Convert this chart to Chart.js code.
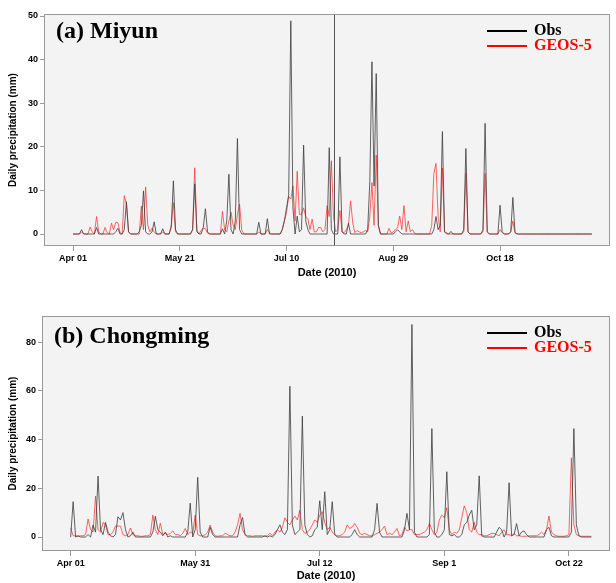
<!DOCTYPE html>
<html>
<head>
<meta charset="utf-8">
<script src="https://cdn.jsdelivr.net/npm/chart.js@4.4.1/dist/chart.umd.min.js"></script>
<style>
  body { margin: 0; background: #fff; }
  #wrap { position: relative; width: 616px; height: 583px; }
  #topBox { position: absolute; left: 0; top: 0; }
  #botBox { position: absolute; left: 0; top: 300px; }
</style>
</head>
<body>
<div id="wrap">
  <canvas id="topBox" width="616" height="280"></canvas>
  <canvas id="botBox" width="616" height="283"></canvas>
</div>
<script>
//series labels
var seriesNames = ["Obs", "GEOS-5"];

//(a) miyun, daily values from Apr 01 to Nov 30
var miyunTickPos = [0, 50, 100, 150, 200];
var miyunTickLabels = ["Apr 01", "May 21", "Jul 10", "Aug 29", "Oct 18"];
var miyunYTicks = [0, 10, 20, 30, 40, 50];
var miyunMarkDay = 122;

var miyunObs = [
  0, 0, 0, 0, 1, 0, 0, 0, 0, 0,
  0, 1.5, 0, 0, 0, 0, 0, 0, 0, 0,
  0.5, 1.3, 0, 0, 1, 7.4, 0.5, 0, 0, 0,
  0, 0.5, 2, 9.9, 0.5, 0, 0, 0.5, 2.8, 0,
  0, 0, 1.2, 0, 0, 0, 1.5, 12.2, 1, 0,
  0, 0, 0, 0, 0, 0, 1, 11.5, 0.5, 0,
  0, 1.5, 5.8, 0.5, 0, 0, 0, 0, 0, 0,
  1.2, 0, 3, 13.7, 1, 0, 3, 21.9, 1, 0,
  0, 0, 0, 0, 0, 0, 0, 2.7, 0, 0,
  0, 3.5, 0, 0, 0, 0, 0, 0, 1, 3,
  6, 9, 48.9, 6, 0, 4.1, 0.5, 1, 20.4, 3,
  1, 0, 0, 0, 0, 0, 0, 0, 0, 0,
  19.8, 1, 0, 0, 0, 17.7, 0.5, 0, 0, 2.5,
  0, 0, 0, 0, 0, 0, 0, 0, 1, 12,
  39.5, 11, 36.8, 2, 0, 0, 0, 0, 0, 0,
  0, 0.5, 1, 0.5, 0, 0, 0, 0, 0, 0,
  0, 0, 0, 0, 0, 0, 0, 0, 0, 1,
  4, 1, 2, 23.5, 0.5, 0, 0, 0.6, 0, 0,
  0, 0, 0, 1, 19.6, 0.5, 0, 0, 0, 0,
  0, 0, 1, 25.4, 0.5, 0, 0, 0, 0, 0,
  6.6, 0.5, 0, 0, 0, 0.5, 8.4, 0.5, 0, 0,
  0, 0, 0, 0, 0, 0, 0, 0, 0, 0,
  0, 0, 0, 0, 0, 0, 0, 0, 0, 0,
  0, 0, 0, 0, 0, 0, 0, 0, 0, 0,
  0, 0, 0, 0
];

var miyunGeos = [
  0, 0, 0, 0, 0.5, 0, 0, 0, 1.6, 0.5,
  0, 4, 0.5, 0, 0, 1.5, 0.3, 0, 2.5, 1,
  2.7, 2.6, 0.3, 0, 8.8, 7, 0.5, 0, 0, 0,
  0, 0, 6.4, 1, 10.8, 2, 0.5, 1.3, 0.5, 0,
  0, 0, 0.5, 0, 0, 0, 2, 7.2, 0.5, 0,
  0, 0, 0, 0, 0, 0, 1, 15.2, 1, 0,
  0.8, 1.4, 1.2, 0.2, 0, 0, 0, 0, 0, 0,
  5.2, 1, 0.5, 3, 5, 2, 1, 4.5, 6.8, 1,
  0, 0, 0, 0, 0, 0, 0, 0.5, 0, 0,
  0, 1, 0.3, 0, 0, 0, 0, 0, 1, 3,
  5, 8.6, 8, 11, 3, 14.4, 4.5, 4.5, 6, 4,
  3.5, 1, 3.4, 0.5, 0.5, 1.5, 1.5, 0.5, 1, 6.5,
  4, 16.8, 4, 0.5, 1, 5.4, 0.5, 0.3, 1, 2,
  7.6, 2.6, 0.3, 0.8, 0.5, 0.3, 0.5, 0.8, 0.5, 4,
  11.8, 2, 18.1, 2, 0, 0, 0, 0, 1.3, 0.2,
  0.5, 1, 1.5, 4.1, 1, 6.5, 0.5, 3, 0.5, 1,
  0.2, 0, 0, 0, 0, 0, 0, 0, 2, 13.9,
  16.2, 4, 0.5, 15.1, 0.5, 0.3, 0, 0, 0, 0,
  0, 0, 0, 0.5, 13.9, 0.5, 0, 0, 0, 0,
  0, 0, 0.5, 13.9, 0.5, 0, 0, 0, 0, 0,
  1, 0.3, 0, 0, 0, 0.5, 3, 0.2, 0, 0,
  0, 0, 0, 0, 0, 0, 0, 0, 0, 0,
  0, 0, 0, 0, 0, 0, 0, 0, 0, 0,
  0, 0, 0, 0, 0, 0, 0, 0, 0, 0,
  0, 0, 0, 0
];

//(b) chongming, one value per record
var chongTickPos = [0, 50, 100, 150, 200];
var chongTickLabels = ["Apr 01", "May 31", "Jul 12", "Sep 1", "Oct 22"];
var chongYTicks = [0, 20, 40, 60, 80];

var chongObs = [
  0, 14.5, 0, 0.5, 0, 0, 0, 1, 0, 4.9,
  2, 25, 3, 1, 6, 2, 0.5, 0, 1, 8.3,
  7, 10, 3, 0, 0.5, 2, 0, 0, 0, 0,
  0, 0, 0, 2, 8.5, 3, 2, 0.5, 2, 0,
  0.5, 0, 0, 0, 0, 0, 0, 2, 13.9, 0,
  3, 24.5, 2, 0, 0, 0, 4, 1, 0, 0,
  0, 0, 0, 0, 0, 0, 0, 0, 5, 8,
  1, 0, 0, 0, 0, 0, 0, 0, 0.5, 0,
  0.5, 0, 1, 3, 5, 2, 1, 3, 61.9, 5,
  1, 2, 3, 49.6, 5, 1, 0, 0.5, 3, 4,
  14.9, 3, 18.6, 1, 3, 14.5, 1, 0, 0, 0,
  0, 0, 0, 1, 3, 1, 0, 0, 0, 0,
  0, 0, 3, 13.8, 2, 0, 0, 0, 0, 0,
  0, 0, 0, 0, 3, 9.7, 3, 87.2, 2, 0,
  0, 0, 0, 0, 1, 44.5, 2, 0, 0, 1,
  3, 26.8, 1, 0.5, 1, 0, 0, 1, 5, 6,
  9, 11, 3, 5, 25.1, 0.5, 0, 0, 0, 0,
  0, 2, 4, 3, 0, 2, 22.3, 0.5, 1, 5.5,
  0.5, 2, 2.5, 1, 0, 0, 0, 0, 0, 0,
  0, 3, 4, 0.5, 0, 0, 0, 0, 0, 0,
  0, 2, 44.5, 5, 0.5, 0, 0, 0, 0, 0
];

var chongGeos = [
  3.8, 0.5, 0.5, 0.3, 0.5, 0.5, 1, 7.4, 3, 2,
  16.8, 3, 2, 6, 5, 1, 1, 2, 4.5, 4.5,
  4.5, 1, 0.5, 1, 3.7, 1, 0.5, 0.5, 0.3, 0.3,
  0.5, 0.5, 1, 9, 3, 1, 5.7, 1, 1.5, 1,
  1.5, 2.5, 1, 1, 0.5, 1.5, 3.5, 1, 2, 1.5,
  9, 1, 0.5, 0.5, 1, 2, 4.9, 2, 0.5, 0.3,
  0.5, 0.5, 1.5, 1, 0.5, 0.5, 2, 5, 9.7, 3,
  1, 0.5, 0.5, 0.3, 0.5, 0.5, 0.5, 0.5, 0.3, 0.5,
  1.5, 0.5, 2, 3, 2, 4, 7.9, 6, 5, 7,
  8.6, 7, 11, 3, 1.5, 2, 3, 5, 7, 6,
  9, 10.4, 6, 3, 4, 2, 1, 0.5, 0.5, 1,
  2, 5, 3.5, 4, 5.6, 4, 1.5, 1, 1.5, 1,
  0.5, 0.5, 1, 1.5, 2, 3, 4.5, 1, 1.5, 1,
  2, 3.5, 0.5, 1, 4, 2.5, 3, 3, 1, 1,
  1, 1.5, 2, 3, 5.5, 3, 1, 2, 7, 9,
  8, 12, 3, 1, 2, 1.5, 3, 8, 12.8, 10,
  3, 2, 6, 2, 1, 1, 0.5, 0.5, 1, 1.5,
  1.5, 1, 0.5, 2, 3, 1, 1, 0.5, 1.5, 0.5,
  0.5, 0.3, 0.3, 0.3, 0.5, 0.5, 0.5, 0.5, 1, 2,
  1, 3, 8.6, 2, 1, 0.5, 0.3, 0.3, 0.3, 0.5,
  1, 32.5, 5, 1, 0.5, 0.3, 0.3, 0.3, 0.3, 0.3
];

//colors
var obsColor = "rgba(60,60,60,0.8)";
var geosColor = "rgba(255,50,50,0.75)";

//turn plain array into x/y points
function toPoints(arr) {
  return arr.map(function (v, i) { return { x: i, y: v }; });
}

//background, box, panel title, legend and marker line
var panelDecor = {
  id: "panelDecor",
  beforeDraw: function (chart) {
    var a = chart.chartArea, ctx = chart.ctx;
    ctx.save();
    ctx.fillStyle = "#f3f3f3";
    ctx.fillRect(a.left, a.top, a.right - a.left, a.bottom - a.top);
    ctx.restore();
  },
  afterDatasetsDraw: function (chart) {
    var a = chart.chartArea, ctx = chart.ctx;
    var o = chart.options.plugins.panelDecor;
    ctx.save();

    if (o.markDay !== undefined) {
      var mx = Math.round(chart.scales.x.getPixelForValue(o.markDay)) + 0.5;
      ctx.strokeStyle = "#555";
      ctx.lineWidth = 1;
      ctx.beginPath();
      ctx.moveTo(mx, a.top);
      ctx.lineTo(mx, a.bottom);
      ctx.stroke();
    }

    ctx.strokeStyle = "#999";
    ctx.lineWidth = 1;
    ctx.strokeRect(a.left + 0.5, a.top + 0.5, a.right - a.left - 1, a.bottom - a.top - 1);

    ctx.fillStyle = "#000";
    ctx.font = "bold 24px 'Liberation Serif'";
    ctx.textBaseline = "middle";
    ctx.fillText(o.title, a.left + 12, o.titleY);

    //legend
    ctx.font = "bold 16px 'Liberation Serif'";
    chart.data.datasets.forEach(function (ds, i) {
      var ly = o.legendY + i * 15;
      ctx.strokeStyle = i === 0 ? "#000" : "#f00";
      ctx.lineWidth = 2;
      ctx.beginPath();
      ctx.moveTo(487, ly);
      ctx.lineTo(527, ly);
      ctx.stroke();
      ctx.fillStyle = i === 0 ? "#000" : "#f00";
      ctx.fillText(ds.label, 534, ly);
    });
    ctx.restore();
  }
};

function makePanel(canvasId, obs, geos, opts) {
  var ctx = document.getElementById(canvasId);
  return new Chart(ctx, {
    type: "line",
    data: {
      datasets: [
        { label: seriesNames[0], data: toPoints(obs), borderColor: obsColor, borderWidth: 1, pointRadius: 0, tension: 0, order: 1 },
        { label: seriesNames[1], data: toPoints(geos), borderColor: geosColor, borderWidth: 1, pointRadius: 0, tension: 0, order: 2 }
      ]
    },
    options: {
      responsive: false,
      animation: false,
      events: [],
      layout: { padding: { left: 0, right: 6, top: opts.top, bottom: 0 } },
      plugins: {
        legend: { display: false },
        tooltip: { enabled: false },
        panelDecor: { title: opts.title, titleY: opts.titleY, legendY: opts.legendY, markDay: opts.markDay }
      },
      scales: {
        x: {
          type: "linear",
          min: opts.xMin,
          max: opts.xMax,
          afterBuildTicks: function (scale) {
            scale.ticks = opts.tickPos.map(function (v) { return { value: v }; });
          },
          afterFit: function (scale) { scale.height = opts.xHeight; },
          ticks: {
            autoSkip: false,
            maxRotation: 0,
            color: "#000",
            padding: 2,
            font: { family: "'Liberation Sans'", size: 9, weight: "bold" },
            callback: function (v) {
              var k = opts.tickPos.indexOf(v);
              return k >= 0 ? opts.tickLabels[k] : "";
            }
          },
          grid: { drawOnChartArea: false, drawTicks: true, tickLength: 5, color: "#999" },
          border: { display: false },
          title: {
            display: true,
            text: "Date (2010)",
            color: "#000",
            padding: 0,
            font: { family: "'Liberation Sans'", size: 11, weight: "bold" }
          }
        },
        y: {
          min: opts.yMin,
          max: opts.yMax,
          afterBuildTicks: function (scale) {
            scale.ticks = opts.yTicks.map(function (v) { return { value: v }; });
          },
          afterFit: function (scale) { scale.width = opts.yWidth; },
          ticks: {
            color: "#000",
            padding: 2,
            font: { family: "'Liberation Sans'", size: 9, weight: "bold" }
          },
          grid: { drawOnChartArea: false, drawTicks: true, tickLength: 4, color: "#999" },
          border: { display: false },
          title: {
            display: true,
            text: "Daily precipitation (mm)",
            color: "#000",
            padding: { top: 7, bottom: 0 },
            font: { family: "'Liberation Sans'", size: 10, weight: "bold" }
          }
        }
      }
    },
    plugins: [panelDecor]
  });
}

makePanel("topBox", miyunObs, miyunGeos, {
  title: "(a) Miyun", titleY: 32, legendY: 31, markDay: miyunMarkDay,
  top: 14, xHeight: 34, yWidth: 44,
  xMin: -13.6, xMax: 251.5, yMin: -2.75, yMax: 50.46,
  tickPos: miyunTickPos, tickLabels: miyunTickLabels, yTicks: miyunYTicks
});

makePanel("botBox", chongObs, chongGeos, {
  title: "(b) Chongming", titleY: 37, legendY: 33,
  top: 16, xHeight: 32, yWidth: 42,
  xMin: -11.5, xMax: 216.5, yMin: -5.74, yMax: 90.7,
  tickPos: chongTickPos, tickLabels: chongTickLabels, yTicks: chongYTicks
});
</script>
</body>
</html>
